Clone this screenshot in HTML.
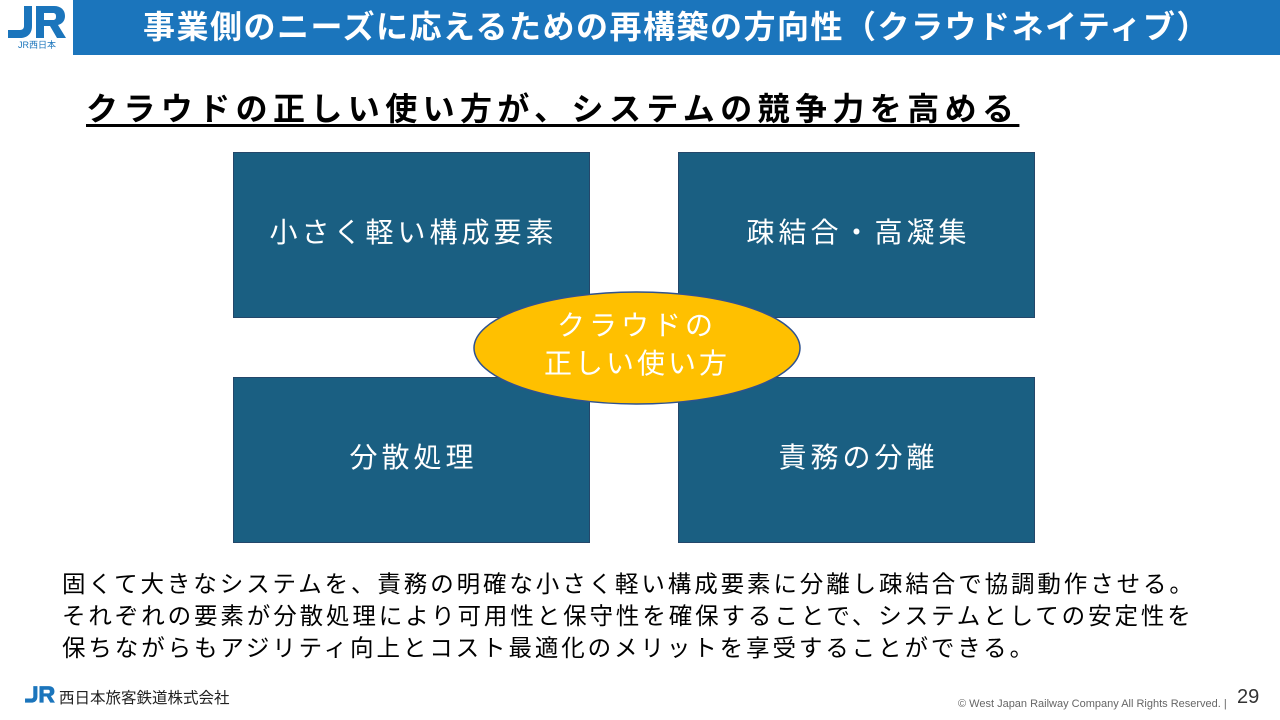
<!DOCTYPE html>
<html><head><meta charset="utf-8"><style>
body{margin:0;width:1280px;height:720px;position:relative;background:#fff;font-family:"Liberation Sans","Noto Sans CJK JP",sans-serif;overflow:hidden}
.abs{position:absolute}
.bar{left:73px;top:0;width:1207px;height:55px;background:#1b75bc;color:#fff;font-size:32px;font-weight:bold;line-height:55px;text-align:center;letter-spacing:1.5px;white-space:nowrap}
.box{background:#1a5f82;border:1px solid #24476a;color:#fff;font-size:28px;letter-spacing:4px;display:flex;align-items:center;justify-content:center;width:355px;height:156px;padding-bottom:8px;padding-left:4px;box-sizing:content-box}
.txt{left:62px;top:568px;font-size:23.5px;letter-spacing:2.9px;line-height:32px;color:#000;white-space:nowrap}
</style></head><body>
<svg class="abs" style="left:6px;top:4px" width="62" height="46" viewBox="0 0 62 46">
<path d="M18 2h8v20c0 8-5 12-12 12H2v-8h12c3 0 4-2 4-4z" fill="#1b75bc"/>
<path d="M30 2h18c7 0 11 4 11 10 0 5-3 8-7 9l8 13h-9l-7-12h-6v12h-8zM38 9v7h9c2 0 3-1 3-3.5S49 9 47 9z" fill="#1b75bc"/>
<text x="31" y="44" font-size="9" fill="#1b75bc" text-anchor="middle" font-family="Liberation Sans,Noto Sans CJK JP,sans-serif">JR西日本</text>
</svg>
<div class="abs bar">事業側のニーズに応えるための再構築の方向性（クラウドネイティブ）</div>
<div class="abs" style="left:86px;top:84px;font-size:32px;font-weight:bold;letter-spacing:5.4px;text-decoration:underline;text-underline-offset:4px;white-space:nowrap">クラウドの正しい使い方が、システムの競争力を高める</div>
<div class="abs box" style="left:233px;top:152px;width:351px">小さく軽い構成要素</div>
<div class="abs box" style="left:678px;top:152px;width:351px">疎結合・高凝集</div>
<div class="abs box" style="left:233px;top:377px;width:351px">分散処理</div>
<div class="abs box" style="left:678px;top:377px;width:351px">責務の分離</div>
<svg class="abs" style="left:470px;top:290px" width="335" height="118">
<ellipse cx="167" cy="58" rx="163" ry="56" fill="#ffc000" stroke="#2f528f" stroke-width="1.5"/>
<text x="167" y="45" font-size="28" letter-spacing="4" fill="#fff" text-anchor="middle" font-family="Liberation Sans,Noto Sans CJK JP,sans-serif">クラウドの</text>
<text x="167" y="83" font-size="28" letter-spacing="3" fill="#fff" text-anchor="middle" font-family="Liberation Sans,Noto Sans CJK JP,sans-serif">正しい使い方</text>
</svg>
<div class="abs txt">固くて大きなシステムを、責務の明確な小さく軽い構成要素に分離し疎結合で協調動作させる。<br>それぞれの要素が分散処理により可用性と保守性を確保することで、システムとしての安定性を<br>保ちながらもアジリティ向上とコスト最適化のメリットを享受することができる。</div>
<svg class="abs" style="left:24px;top:684px" width="32" height="26" viewBox="0 0 62 46">
<path d="M18 2h8v20c0 8-5 12-12 12H2v-8h12c3 0 4-2 4-4z" fill="#1b75bc"/>
<path d="M30 2h18c7 0 11 4 11 10 0 5-3 8-7 9l8 13h-9l-7-12h-6v12h-8zM38 9v7h9c2 0 3-1 3-3.5S49 9 47 9z" fill="#1b75bc"/>
</svg>
<div class="abs" style="left:59px;top:686px;font-size:15.5px;color:#222;white-space:nowrap">西日本旅客鉄道株式会社</div>
<div class="abs" style="left:958px;top:698px;font-size:11px;color:#666;white-space:nowrap">© West Japan Railway Company All Rights Reserved. |</div>
<div class="abs" style="left:1237px;top:686px;font-size:20px;color:#333">29</div>
</body></html>
